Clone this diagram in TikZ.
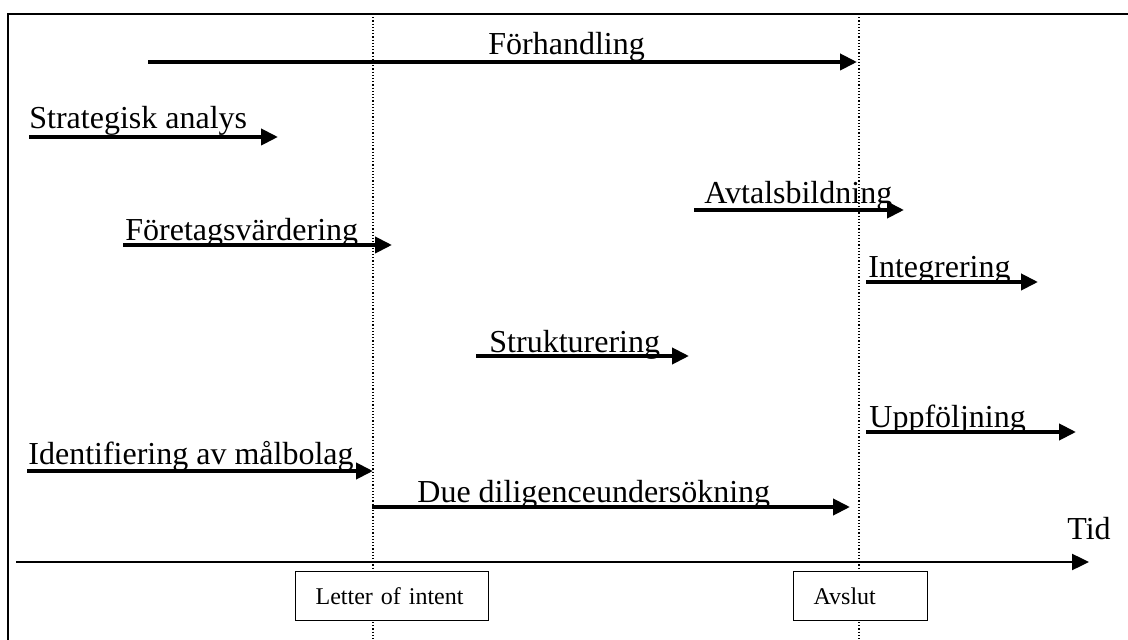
\documentclass[tikz,border=0pt]{standalone}
\usepackage{fontspec}
\setmainfont{Liberation Serif}
\usetikzlibrary{arrows.meta}
\tikzset{
  phase/.style={anchor=base west,inner sep=0pt,font=\fontsize{16}{19}\selectfont},
  phasearrow/.style={line width=2pt,-{Triangle[length=8.5pt,width=8pt]}},
  milestone/.style={draw,line width=0.6pt,fill=white,anchor=west,align=left,
    inner xsep=10pt,minimum height=24.5pt,font=\fontsize{12}{14}\selectfont},
  marker/.style={line width=0.6pt,dash pattern=on 0.6pt off 1pt}
}
\begin{document}
\begin{tikzpicture}[x=0.5pt,y=-0.5pt]
      \useasboundingbox (0,0) rectangle (1128,640);
      % ram
      \draw[line width=0.9pt] (8,640) -- (8,14) -- (1128,14);
      % tidpunkter
      \foreach \n/\x in {loi/373, avs/859}{
        \coordinate (\n-top) at (\x,14);
        \coordinate (\n-bot) at (\x,640);
        \draw[marker] (\n-top) -- (\n-bot);
      }
      % faser
      \foreach \n/\xa/\xb/\y/\tx/\ty/\t in {
          forh/148/857/62/488/55/Förhandling,
          stra/29/278/137/29/129/Strategisk analys,
          fvar/123/392/245/125/241/Företagsvärdering,
          avtal/694/904/210/704/204/Avtalsbildning,
          integ/866/1038/282/868/278/Integrering,
          strukt/476/689/356/489/353/Strukturering,
          uppf/866/1076/432/869/428/Uppföljning,
          ident/27/373/471/28/465/Identifiering av målbolag,
          due/372/850/507/417/502/Due diligenceundersökning}{
        \coordinate (\n-s) at (\xa,\y);
        \coordinate (\n-e) at (\xb,\y);
        \node[phase] (\n) at (\tx,\ty) {\t};
        \draw[phasearrow] (\n-s) -- (\n-e);
      }
      % tidsaxel
      \coordinate (tid-s) at (16,562);
      \coordinate (tid-e) at (1089,562);
      \draw[line width=1.2pt,-{Triangle[length=8.5pt,width=8pt]}] (tid-s) -- (tid-e);
      \node[phase] (tid) at (1067,539) {Tid};
      \node[milestone,text width=76.5pt] (loi) at (295,596) {Letter of intent};
      \node[milestone,text width=47pt] (avs) at (793,596) {Avslut};
    \end{tikzpicture}
\end{document}
